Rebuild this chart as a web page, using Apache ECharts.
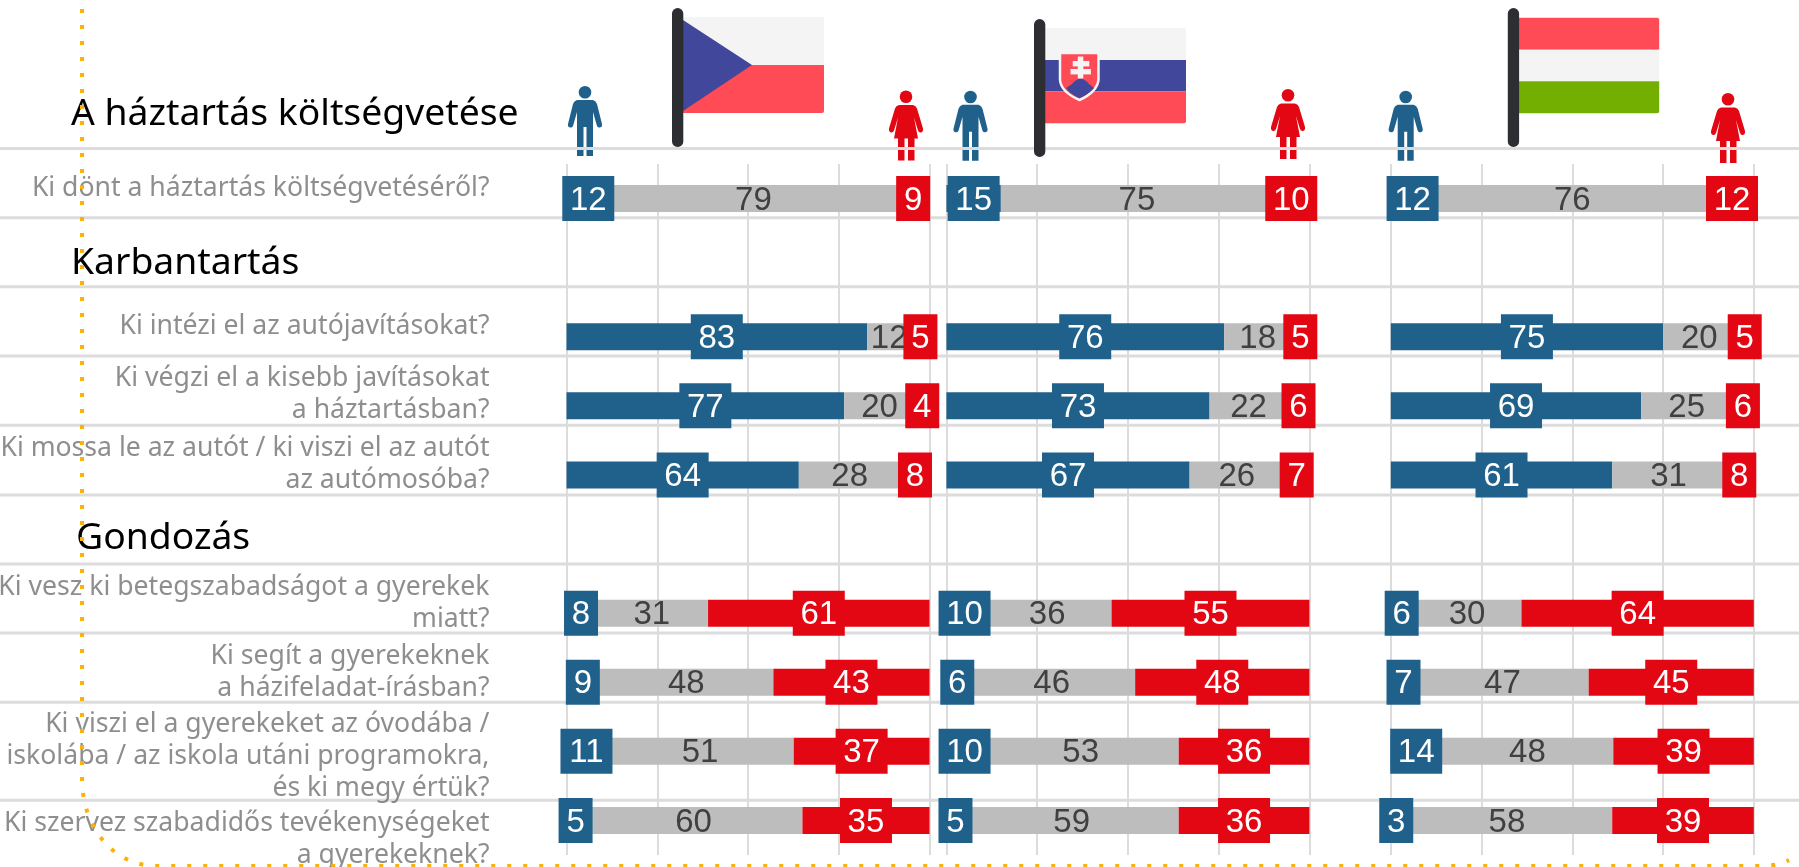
<!DOCTYPE html>
<html lang="hu">
<head>
<meta charset="utf-8">
<title>A háztartás költségvetése</title>
<style>
  html, body { margin: 0; padding: 0; background: #fff; }
  #chart { width: 1799px; height: 867px; }
</style>
<script src="https://cdn.jsdelivr.net/npm/echarts@6/dist/echarts.min.js"></script>
</head>
<body>
<div id="chart"></div>
<script>
// sorok: a fejlécek helye üres (null), a tengelyen mégis van sávjuk
const rowLabels = [
  'Ki dönt a háztartás költségvetéséről?',
  '',
  'Ki intézi el az autójavításokat?',
  'Ki végzi el a kisebb javításokat\na háztartásban?',
  'Ki mossa le az autót / ki viszi el az autót\naz autómosóba?',
  '',
  'Ki vesz ki betegszabadságot a gyerekek\nmiatt?',
  'Ki segít a gyerekeknek\na házifeladat-írásban?',
  'Ki viszi el a gyerekeket az óvodába /\niskolába / az iskola utáni programokra,\nés ki megy értük?',
  'Ki szervez szabadidős tevékenységeket\na gyerekeknek?'
]
const labelShift = [-10, 0, -10, -11, -11, 0, -10, -10, 5, 19]

// a tizedesek a sávok hosszából becsült, kerekítés előtti értékek
const czMen = [12, null, 82.8, 76.5, 64, null, 8, 9, 11, 5]
const czBoth = [79, null, 12, 20, 28, null, 31, 48, 51, 60]
const czWomen = [9, null, 5, 4, 8, null, 61, 43, 37.4, 35]

const skMen = [15, null, 76.49, 72.5, 67, null, 10, 6, 10, 5]
const skBoth = [75, null, 18, 22, 26, null, 36, 46, 53, 59]
const skWomen = [10, null, 5, 6, 7, null, 54.5, 48, 36, 36]

const huMen = [12, null, 75, 69, 61, null, 6, 7, 14, 3]
const huBoth = [76, null, 20, 25, 31, null, 30, 47, 48, 58]
const huWomen = [12, null, 5, 6, 8, null, 64, 45.49, 38.7, 39]

const panels = [
  { left: 566.5, men: czMen, both: czBoth, women: czWomen },
  { left: 946.4, men: skMen, both: skBoth, women: skWomen },
  { left: 1390.8, men: huMen, both: huBoth, women: huWomen }
]

const BLUE = '#20618c'
const RED = '#e30613'
const GREY = '#bdbdbd'
const LINE = '#dcdcdc'
const NUM_FONT = '"Liberation Sans", Arial, sans-serif'
const TEXT_FONT = '"Noto Sans", sans-serif'
const NUM_SIZE = 33

function boxed(value, color) {
  if (value === null) return null
  const shown = Math.round(value)
  return {
    value: value,
    label: {
      show: true,
      position: 'inside',
      formatter: String(shown),
      width: shown >= 10 ? 52 : 34,
      // a felső kitöltés csak 'top' igazításnál tolja le a számot
      height: 41,
      lineHeight: 41,
      padding: [4, 0, 0, 0],
      align: 'center',
      verticalAlign: 'top',
      offset: [0, -22.5],
      backgroundColor: color,
      color: '#fff',
      fontFamily: NUM_FONT,
      fontSize: NUM_SIZE
    }
  }
}

const grids = []
const xAxes = []
const yAxes = []
const series = []

panels.forEach((p, i) => {
  grids.push({ left: p.left, width: 363, top: 164, height: 691 })
  xAxes.push({
    gridIndex: i, type: 'value', min: 0, max: 100, interval: 25,
    axisLine: { show: false }, axisTick: { show: false }, axisLabel: { show: false },
    splitLine: { show: true, lineStyle: { color: LINE, width: 2 } }
  })
  yAxes.push({
    gridIndex: i, type: 'category', inverse: true, data: rowLabels,
    axisLine: { show: false }, axisTick: { show: false }, axisLabel: { show: false },
    splitLine: { show: false }
  })
  const common = { type: 'bar', stack: 'p' + i, xAxisIndex: i, yAxisIndex: i, barWidth: 27, silent: true, z: 9 }
  series.push(Object.assign({}, common, {
    name: 'Férfi ' + i,
    itemStyle: { color: BLUE },
    data: p.men.map(v => boxed(v, BLUE))
  }))
  // a szürke sáv tölti ki a 100-ig hiányzó részt, a felirat a kiírt szám
  series.push(Object.assign({}, common, {
    name: 'Mindketten ' + i,
    itemStyle: { color: GREY },
    data: p.both.map((v, r) => v === null ? null : {
      value: 100 - p.men[r] - p.women[r],
      label: {
        show: true, position: 'inside', offset: [0, 2], formatter: String(v),
        color: '#404040', fontFamily: NUM_FONT, fontSize: NUM_SIZE
      }
    })
  }))
  series.push(Object.assign({}, common, {
    name: 'Nő ' + i,
    itemStyle: { color: RED },
    data: p.women.map(v => boxed(v, RED))
  }))
})

// sorfeliratok: a bal oldali rács 0-s pontjához kötve
series.push({
  type: 'scatter', xAxisIndex: 0, yAxisIndex: 0, symbolSize: 0, silent: true, z: 9,
  data: rowLabels.map((t, r) => t === '' ? null : {
    value: [0, r],
    label: {
      show: true, position: 'left', distance: 77, align: 'right',
      offset: [0, labelShift[r]], formatter: t,
      color: '#727272', fontFamily: TEXT_FONT, fontSize: 26.6, lineHeight: 32
    }
  })
})

// díszítés: elválasztók, fejlécek, zászlók, ikonok, pontozott keret
const separatorYs = [148.5, 217.7, 286.7, 356, 425.3, 495, 564, 633, 702.3, 800.3]
const headings = [
  { text: 'A háztartás költségvetése', x: 71, y: 114.5 },
  { text: 'Karbantartás', x: 71, y: 263 },
  { text: 'Gondozás', x: 76, y: 538 }
]
const manPath = 'M9 14L25 14Q28 15 29 18L34 38Q34.5 41 32 41.5Q30 42 29 40L25 26L25 70L18.5 70L18.5 41L15.5 41L15.5 70L9 70L9 26L5 40Q4 42 2 41.5Q-0.5 41 0 38L5 18Q6 15 9 14Z'
const womanPath = 'M10 14.5L24 14.5Q27 15 28 18L34 38Q34.5 41 32 42Q30 42.5 29 40L25 27L29 48L25.5 48L25.5 70L19 70L19 48L15.5 48L15.5 70L9 70L9 48L5 48L9 27L5 40Q4 42.5 2 42Q-0.5 41 0 38L6 18Q7 15 10 14.5Z'
const shieldPath = 'M1060 53L1098.5 53L1098.5 80Q1097 92 1079.5 100Q1061 92 1060 80Z'
const mountainPath = 'M1066 88L1072 84Q1076 79 1080.5 78.5Q1085 79 1089 84L1094 88Q1089 94 1079.5 98.3Q1070 94 1066 88Z'
const framePath = 'M82 9L82 780C83 830 115 866 157 866L1757 866C1770 866 1780 865 1789 860'

echarts.graphic.registerShape('manBody', echarts.graphic.extendPath(manPath, {}))
echarts.graphic.registerShape('womanBody', echarts.graphic.extendPath(womanPath, {}))
echarts.graphic.registerShape('skShield', echarts.graphic.extendPath(shieldPath, {}))
echarts.graphic.registerShape('skMountain', echarts.graphic.extendPath(mountainPath, {}))
echarts.graphic.registerShape('dottedFrame', echarts.graphic.extendPath(framePath, {}))

const people = [
  { body: 'manBody', color: BLUE, x: 568, y: 86 },
  { body: 'womanBody', color: RED, x: 889, y: 90.5 },
  { body: 'manBody', color: BLUE, x: 953.5, y: 90.7 },
  { body: 'womanBody', color: RED, x: 1271, y: 89 },
  { body: 'manBody', color: BLUE, x: 1388.7, y: 90.7 },
  { body: 'womanBody', color: RED, x: 1711, y: 93 }
]

function rect(x, y, w, h, fill, z, r) {
  return { type: 'rect', z: z, silent: true, shape: { x: x, y: y, width: w, height: h, r: r || 0 }, style: { fill: fill } }
}
function person(p) {
  return {
    type: 'group', x: p.x, y: p.y, silent: true,
    children: [
      { type: 'circle', z: 6, shape: { cx: 17, cy: 6.3, r: 6.3 }, style: { fill: p.color } },
      { type: p.body, z: 6, style: { fill: p.color } }
    ]
  }
}
function poly(points, fill, z) {
  return { type: 'polygon', z: z, silent: true, shape: { points: points }, style: { fill: fill } }
}

const FLAG_RED = '#ff4b55'
const FLAG_BLUE = '#41479b'
const FLAG_WHITE = '#f4f4f4'
const POLE = '#2d2e32'

const graphics = []
// az elválasztó a figurák lába fölött, de a sávok alatt fut
separatorYs.forEach(y => graphics.push(rect(0, y - 1.5, 1799, 3, LINE, 7)))
headings.forEach(h => graphics.push({
  type: 'text', x: h.x, y: h.y, z: 5, silent: true,
  style: { text: h.text, fill: '#000', font: '37.3px ' + TEXT_FONT, verticalAlign: 'middle' }
}))

// cseh zászló
graphics.push(
  rect(683, 17, 141, 48, FLAG_WHITE, 5, [0, 2, 0, 0]),
  rect(683, 65, 141, 48, FLAG_RED, 5, [0, 0, 2, 0]),
  poly([[683, 20], [752, 65], [683, 111]], FLAG_BLUE, 5),
  rect(672, 8, 11.3, 139, POLE, 8, 5.6)
)
// szlovák zászló
graphics.push(
  rect(1045, 28, 141, 32, FLAG_WHITE, 5, [0, 2, 0, 0]),
  rect(1045, 60, 141, 31.3, FLAG_BLUE, 5),
  rect(1045, 91.3, 141, 32, FLAG_RED, 5, [0, 0, 2, 0]),
  { type: 'skShield', z: 6, silent: true, style: { fill: FLAG_RED, stroke: FLAG_WHITE, lineWidth: 2.5 } },
  { type: 'skMountain', z: 7, silent: true, style: { fill: FLAG_BLUE } },
  rect(1077.8, 56.5, 5.5, 22, FLAG_WHITE, 8),
  rect(1072.7, 61, 16.6, 5.4, FLAG_WHITE, 8),
  rect(1070.5, 69, 20.4, 5.4, FLAG_WHITE, 8),
  rect(1034, 19, 11.3, 138, POLE, 8, 5.6)
)
// magyar zászló
graphics.push(
  rect(1518.7, 17.7, 140.5, 32, FLAG_RED, 5, [0, 2, 0, 0]),
  rect(1518.7, 49.7, 140.5, 31.6, FLAG_WHITE, 5),
  rect(1518.7, 81.3, 140.5, 32, '#73af00', 5, [0, 0, 2, 0]),
  rect(1507.8, 8, 11.3, 139, POLE, 8, 5.6)
)
people.forEach(p => graphics.push(person(p)))

graphics.push({
  type: 'dottedFrame', z: 10, silent: true,
  style: { fill: 'none', stroke: '#ffb000', lineWidth: 4, lineDash: [4, 12] }
})

const myChart = echarts.init(document.getElementById('chart'))
myChart.setOption({
  animation: false,
  backgroundColor: '#fff',
  grid: grids,
  xAxis: xAxes,
  yAxis: yAxes,
  series: series,
  graphic: { elements: graphics }
})
</script>
</body>
</html>
